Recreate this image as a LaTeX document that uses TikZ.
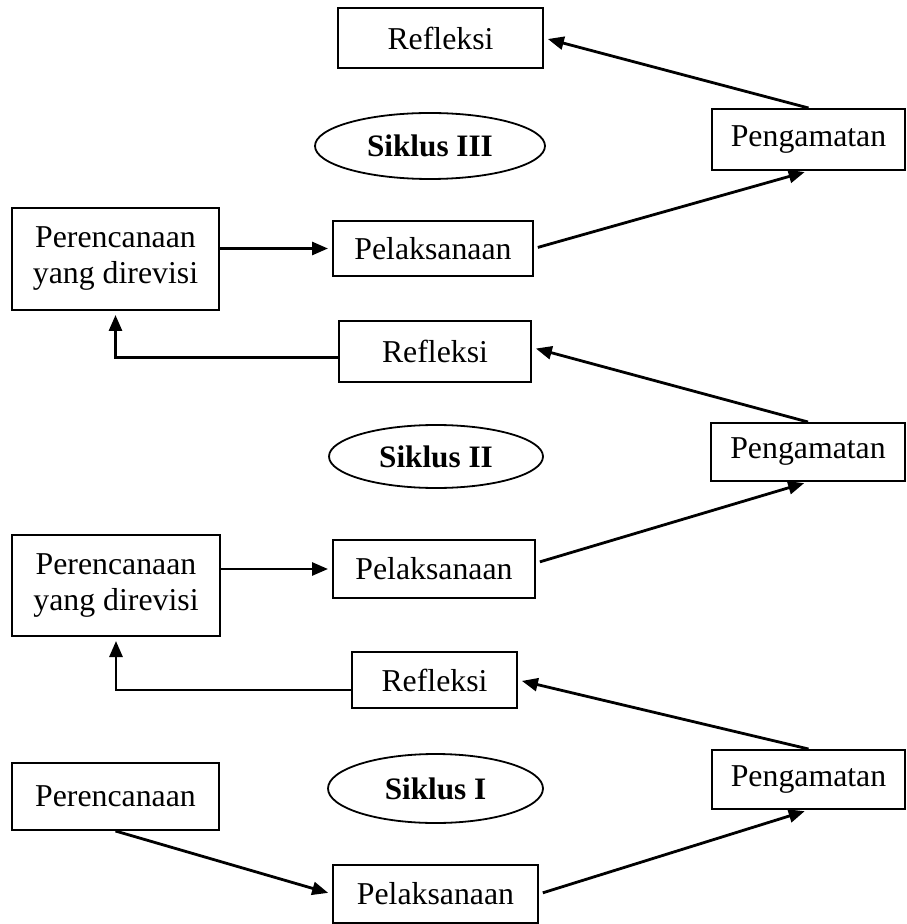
\documentclass[tikz,border=0pt]{standalone}
\usepackage{fontspec}
\setmainfont{Liberation Serif}
\usetikzlibrary{arrows.meta,shapes.geometric}
\tikzset{
  box/.style={draw, line width=1pt, rectangle, inner sep=0pt, align=center,
    font=\fontsize{15.9pt}{18pt}\selectfont},
  oval/.style={draw, line width=0.9pt, ellipse, inner sep=0pt,
    font=\fontsize{15.6pt}{18pt}\selectfont\bfseries},
  flow/.style={line width=1.4pt, -{Triangle[length=8pt,width=6.5pt]}, shorten >=2pt}
}
\begin{document}
\begin{tikzpicture}[x=0.5pt,y=-0.5pt]
\useasboundingbox (0,0) rectangle (906,924);
% Cycle III
\node[box, minimum width=102.5pt, minimum height=30pt] (R3) at (440.5,38) {Refleksi};
\node[box, minimum width=96.5pt, minimum height=30.5pt] (P3) at (808.5,139.5) {Pengamatan};
\node[oval, minimum width=115pt, minimum height=33pt] (S3) at (430,146) {Siklus III};
\node[box, minimum width=103.5pt, minimum height=51pt] (D3) at (115.5,259) {Perencanaan\\yang direvisi};
\node[box, minimum width=100pt, minimum height=27.5pt] (L3) at (433,248.5) {Pelaksanaan};
% Cycle II
\node[box, minimum width=96pt, minimum height=30.5pt] (R2) at (435,351.5) {Refleksi};
\node[box, minimum width=97pt, minimum height=29pt] (P2) at (808,452) {Pengamatan};
\node[oval, minimum width=107pt, minimum height=31.5pt] (S2) at (436,456.5) {Siklus II};
\node[box, minimum width=104pt, minimum height=50.5pt] (D2) at (116,585.5) {Perencanaan\\yang direvisi};
\node[box, minimum width=101pt, minimum height=29pt] (L2) at (434,569) {Pelaksanaan};
% Cycle I
\node[box, minimum width=82.5pt, minimum height=28pt] (R1) at (434.5,680) {Refleksi};
\node[box, minimum width=96.5pt, minimum height=29.5pt] (P1) at (808.5,779.5) {Pengamatan};
\node[oval, minimum width=107.5pt, minimum height=34.5pt] (S1) at (435.5,788.5) {Siklus I};
\node[box, minimum width=103.5pt, minimum height=33.5pt] (D1) at (115.5,796.5) {Perencanaan};
\node[box, minimum width=102.5pt, minimum height=29pt] (L1) at (435.5,894) {Pelaksanaan};
% connectors cycle I
\draw[flow] (D1.south) -- (L1.west);
\draw[flow, shorten <=2pt] (L1.east) -- (P1.south);
\draw[flow] (P1.north) -- (R1.east);
\draw[flow] ([yshift=-5pt]R1.west) -| (D2.south);
% connectors cycle II
\draw[flow] (D2.east |- L2.west) -- (L2.west);
\draw[flow, shorten <=2pt] ([yshift=3pt]L2.east) -- (P2.south);
\draw[flow] (P2.north) -- ([yshift=2pt]R2.east);
\draw[flow] ([yshift=-3pt]R2.west) -| (D3.south);
% connectors cycle III
\draw[flow] (D3.east |- L3.west) -- (L3.west);
\draw[flow, shorten <=2pt] (L3.east) -- (P3.south);
\draw[flow] (P3.north) -- (R3.east);
\end{tikzpicture}
\end{document}
